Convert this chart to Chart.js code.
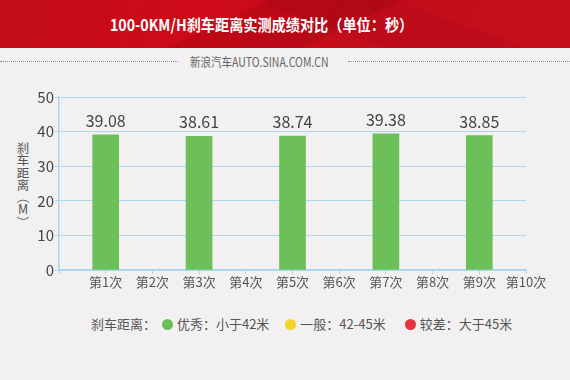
<!DOCTYPE html>
<html>
<head>
<meta charset="utf-8">
<script src="https://cdn.jsdelivr.net/npm/chart.js@4/dist/chart.umd.min.js"></script>
<style>
  html, body { margin:0; padding:0; }
  body { width:570px; height:380px; position:relative; overflow:hidden; background:#f2f0f1;
         font-family:"Noto Sans CJK SC","Noto Sans",sans-serif; }
  #header { position:absolute; left:0; top:0; width:570px; height:48px;
    background:
      linear-gradient(155deg, rgba(0,0,0,0) 0 40%, rgba(120,0,10,0.18) 40% 60%, rgba(0,0,0,0) 60%),
      linear-gradient(20deg, rgba(0,0,0,0) 0 55%, rgba(150,0,15,0.15) 55% 75%, rgba(0,0,0,0) 75%),
      linear-gradient(110deg, #c10d19 0%, #cf0a18 35%, #c30d1b 65%, #c60f1c 100%); }
  #title { position:absolute; left:110px; top:12px; color:#fff; font-size:16px; font-weight:bold; white-space:nowrap;
           transform-origin:0 50%; transform:scaleX(0.885); }
  #sub { position:absolute; left:190px; top:52px; color:#666; font-size:12.5px; white-space:nowrap;
         transform-origin:0 50%; transform:scaleX(0.84); }
  .dash { position:absolute; top:61px; height:0; border-top:1px dotted #8a8a8a; }
  #ytitle { position:absolute; left:15px; top:142px; width:16px; font-size:12.5px; color:#555; line-height:12.3px; text-align:center; }
  #ytitle span { display:block; }
  #ytitle span.rot { transform:rotate(90deg); }
  #legend { position:absolute; left:91px; top:314px; font-size:13px; color:#555; white-space:nowrap; }
  #legend span.dot { display:inline-block; width:11px; height:11px; border-radius:50%; vertical-align:-1px; margin-right:4px; }
  canvas { position:absolute; left:0; top:0; }
</style>
</head>
<body>
<div id="header"><div id="title"></div></div>
<div class="dash" style="left:0;width:178px"></div>
<div id="sub"></div>
<div class="dash" style="left:348px;width:222px"></div>
<div id="ytitle"></div>
<div id="legend"></div>
<canvas id="c" width="570" height="380"></canvas>
<script>
const titleText = "100-0KM/H刹车距离实测成绩对比（单位：秒）";
const subText = "新浪汽车AUTO.SINA.COM.CN";
const yTitle = "刹车距离（M）";
const categories = ["第1次","第2次","第3次","第4次","第5次","第6次","第7次","第8次","第9次","第10次"];
const values = [39.08, null, 38.61, null, 38.74, null, 39.38, null, 38.85, null];
const yTicks = [0, 10, 20, 30, 40, 50];
const legendTitle = "刹车距离：";
const legendLabels = ["优秀：小于42米", "一般：42-45米", "较差：大于45米"];
const legendColors = ["#6bbf59", "#f6d327", "#e5323b"];

document.getElementById('title').textContent = titleText;
document.getElementById('sub').textContent = subText;
const yt = document.getElementById('ytitle');
for (const ch of yTitle) {
  const s = document.createElement('span');
  if (ch === '（' || ch === '）') s.className = 'rot';
  s.textContent = ch;
  yt.appendChild(s);
}

const lg = document.getElementById('legend');
lg.appendChild(document.createTextNode(legendTitle + " "));
const gaps = [16, 19, 0];
legendLabels.forEach((t, i) => {
  const s = document.createElement('span');
  s.style.marginLeft = i === 0 ? '3px' : '0';
  s.style.marginRight = gaps[i] + 'px';
  const d = document.createElement('span'); d.className = 'dot'; d.style.background = legendColors[i];
  s.appendChild(d); s.appendChild(document.createTextNode(t));
  lg.appendChild(s);
});

const labels = [""].concat(categories);
const data = [null].concat(values);
const blue = "#a9d6f0";

const valueLabels = {
  id: 'valueLabels',
  afterDatasetsDraw(chart) {
    const ctx = chart.ctx;
    const meta = chart.getDatasetMeta(0);
    ctx.save();
    ctx.font = '16px "Noto Sans CJK SC", "Noto Sans", sans-serif';
    ctx.fillStyle = '#444';
    ctx.textAlign = 'center';
    ctx.textBaseline = 'alphabetic';
    meta.data.forEach((el, i) => {
      const v = data[i];
      if (v == null) return;
      ctx.fillText(v.toFixed(2), el.x, el.y - 8);
    });
    ctx.restore();
  }
};

new Chart(document.getElementById('c'), {
  type: 'bar',
  data: { labels, datasets: [{ data, backgroundColor: '#6dbf5a', barThickness: 26 }] },
  options: {
    responsive: false, animation: false,
    layout: { padding: { top: 97, right: 44, left: 0, bottom: 0 } },
    plugins: { legend: { display: false }, tooltip: { enabled: false } },
    scales: {
      x: {
        offset: false,
        grid: { drawOnChartArea: false, color: blue, tickLength: 4, offset: false },
        border: { color: blue, width: 1.5 },
        ticks: { color: '#555', font: { size: 13, family: '"Noto Sans CJK SC", sans-serif' }, padding: 0, maxRotation: 0, autoSkip: false },
        afterFit(s) { s.height = 110; }
      },
      y: {
        min: 0, max: 50,
        afterBuildTicks(s) { s.ticks = yTicks.map(v => ({ value: v })); },
        grid: { color: blue, tickLength: 4 },
        border: { color: blue, width: 1.5 },
        ticks: { color: '#444', font: { size: 15, family: '"Noto Sans CJK SC", sans-serif' }, padding: 1 },
        afterFit(s) { s.width = 59; }
      }
    }
  },
  plugins: [valueLabels]
});
</script>
</body>
</html>
